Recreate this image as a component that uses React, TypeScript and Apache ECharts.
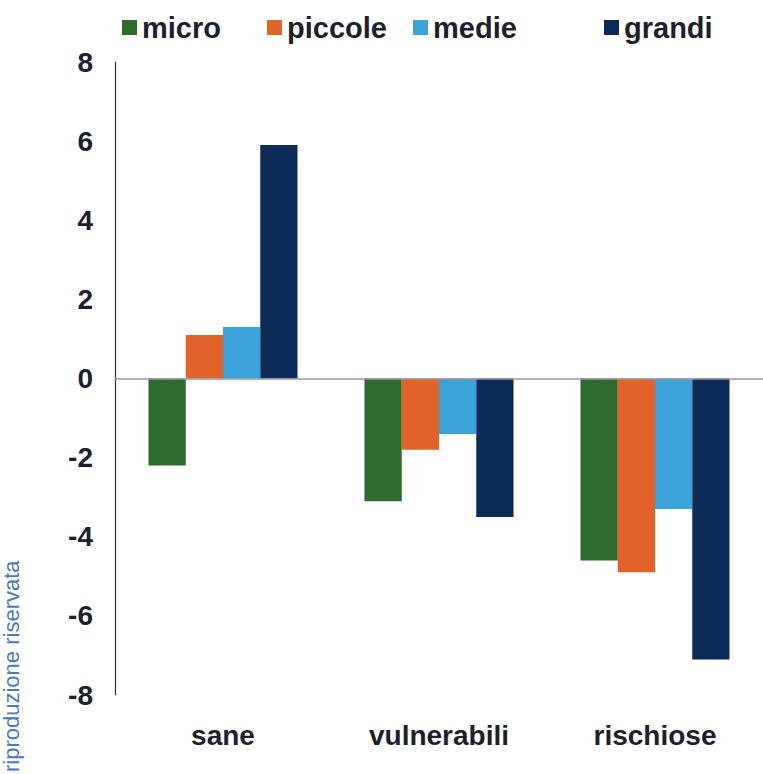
import React, { useEffect, useRef } from "react";
import * as echarts from "echarts";

const categories = ["sane", "vulnerabili", "rischiose"];
const seriesNames = ["micro", "piccole", "medie", "grandi"];
const micro = [-2.2, -3.1, -4.6];
const piccole = [1.1, -1.8, -4.9];
const medie = [1.3, -1.4, -3.3];
const grandi = [5.9, -3.5, -7.1];
const colors = ["#2f6b2c", "#e2632a", "#3ba3d9", "#0d2b58"];
const yTicks = { min: -8, max: 8, interval: 2 };
const legendLefts = [117, 262, 408, 599];

const FONT = "'Liberation Sans Narrow', 'Arial Narrow', 'Liberation Sans', Arial, sans-serif";
const TEXT = "#1d1f2e";

export default function App() {
  const ref = useRef<HTMLDivElement>(null);
  useEffect(() => {
    const chart = echarts.init(ref.current!, null, { renderer: "svg" });
    const values = [micro, piccole, medie, grandi];
    chart.setOption({
      animation: false,
      backgroundColor: "#ffffff",
      legend: seriesNames.map((name, i) => ({
        top: 8,
        left: legendLefts[i],
        icon: "rect",
        itemWidth: 15,
        itemHeight: 15,
        textStyle: { fontFamily: FONT, fontWeight: "bold", fontSize: 29, color: TEXT, padding: [0, 0, 0, 0] },
        data: [name],
      })),
      grid: { left: 115, right: -6, top: 62, bottom: 79, containLabel: false },
      xAxis: {
        type: "category",
        data: categories,
        axisLine: { show: false, onZero: false },
        axisTick: { show: false },
        position: "bottom",
        axisLabel: {
          margin: 26,
          fontFamily: FONT,
          fontWeight: "bold",
          fontSize: 28,
          color: TEXT,
        },
      },
      yAxis: {
        type: "value",
        min: yTicks.min,
        max: yTicks.max,
        interval: yTicks.interval,
        axisLine: { show: true, lineStyle: { color: "#333333", width: 1.2 } },
        axisTick: { show: false },
        splitLine: { show: false },
        axisLabel: {
          margin: 22,
          fontFamily: FONT,
          fontWeight: "bold",
          fontSize: 28,
          color: TEXT,
        },
      },
      series: seriesNames.map((name, i) => ({
        name,
        type: "bar",
        data: values[i],
        itemStyle: { color: colors[i] },
        barGap: "0%",
        barCategoryGap: "31%",
        ...(i === 0
          ? {
              markLine: {
                silent: true,
                symbol: ["none", "none"],
                label: { show: false },
                lineStyle: { color: "#9a9a9a", width: 1.5, type: "solid" },
                data: [{ yAxis: 0 }],
              },
            }
          : {}),
      })),
      graphic: [
        {
          type: "text",
          x: 0,
          y: 772,
          rotation: Math.PI / 2,
          style: {
            text: "riproduzione riservata",
            fontFamily: "'Liberation Sans', Arial, sans-serif",
            fontSize: 22,
            fill: "#4a78bd",
            textAlign: "left",
            textVerticalAlign: "top",
          },
        },
      ],
    });
    return () => chart.dispose();
  }, []);
  return <div ref={ref} style={{ width: 763, height: 774, position: "absolute", left: 0, top: 0 }} />;
}
